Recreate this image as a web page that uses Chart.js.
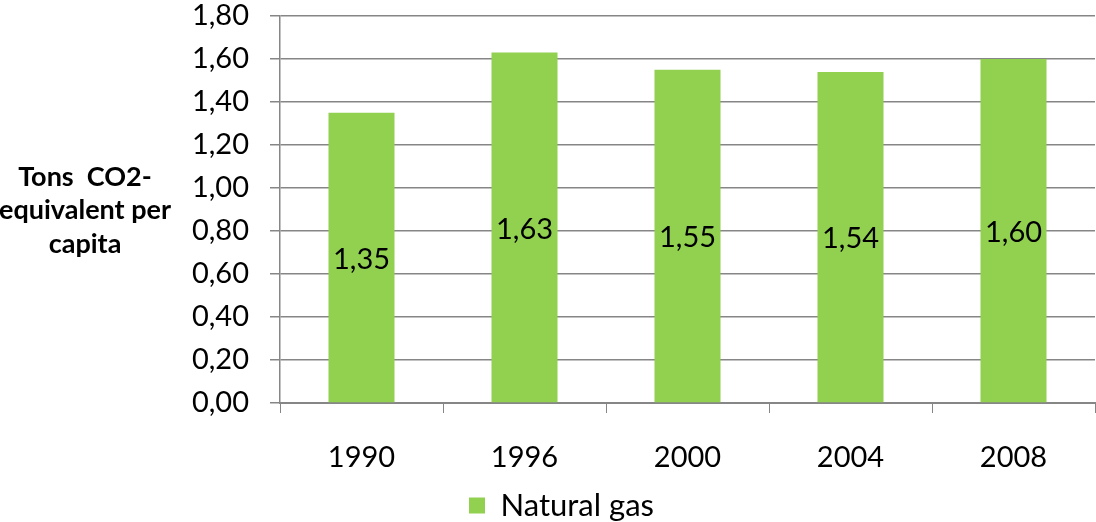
<!DOCTYPE html>
<html>
<head>
<meta charset="utf-8">
<script src="https://cdn.jsdelivr.net/npm/chart.js@4"></script>
<style>
  html, body { margin: 0; padding: 0; background: #fff; }
  #wrap { width: 1096px; height: 522px; }
</style>
</head>
<body>
<div id="wrap"><canvas id="gasChart" width="1096" height="522"></canvas></div>
<script>
var years = ["1990", "1996", "2000", "2004", "2008"];
var gasValues = [1.35, 1.63, 1.55, 1.54, 1.60];
var seriesName = "Natural gas";
var yTitle = ["Tons  CO2-", "equivalent per", "capita"];

var FONT = "Lato, Calibri, 'Open Sans', sans-serif";

function komma(v) {
  return Number(v).toFixed(2).replace(".", ",");
}

// value labels in the middle of each bar
var barLabels = {
  id: "barLabels",
  afterDatasetsDraw: function(chart) {
    var ctx = chart.ctx;
    var meta = chart.getDatasetMeta(0);
    ctx.save();
    ctx.font = "29px " + FONT;
    ctx.fillStyle = "#000";
    ctx.textAlign = "center";
    ctx.textBaseline = "middle";
    meta.data.forEach(function(bar, i) {
      var mid = (bar.y + bar.base) / 2;
      ctx.fillText(komma(chart.data.datasets[0].data[i]), bar.x, mid + 2);
    });
    ctx.restore();
  }
};

// horizontal axis title on the left, nudge legend a bit right
var sideTitle = {
  id: "sideTitle",
  afterLayout: function(chart) {
    if (chart.legend) {
      chart.legend.left += 14;
      chart.legend.right += 14;
    }
  },
  afterDraw: function(chart) {
    var ctx = chart.ctx;
    ctx.save();
    ctx.font = "bold 27px " + FONT;
    ctx.fillStyle = "#000";
    ctx.textAlign = "center";
    ctx.textBaseline = "middle";
    var lineY = [177, 210, 244];
    yTitle.forEach(function(t, i) {
      ctx.fillText(t, 85, lineY[i]);
    });
    ctx.restore();
  }
};

var chart = new Chart(document.getElementById("gasChart"), {
  type: "bar",
  data: {
    labels: years,
    datasets: [{
      label: seriesName,
      data: gasValues,
      backgroundColor: "#92D050",
      borderWidth: 0,
      barPercentage: 0.405,
      categoryPercentage: 1.0
    }]
  },
  plugins: [barLabels, sideTitle],
  options: {
    responsive: false,
    animation: false,
    layout: { padding: { left: 0, right: 1, top: 0, bottom: -9 } },
    plugins: {
      tooltip: { enabled: false },
      legend: {
        display: true,
        position: "bottom",
        labels: {
          usePointStyle: true,
          pointStyle: "rect",
          boxWidth: 16,
          boxHeight: 16,
          padding: 0,
          color: "#000",
          font: { family: FONT, size: 31 }
        }
      }
    },
    scales: {
      x: {
        afterFit: function(scale) { scale.height = 87; },
        grid: {
          offset: true,
          drawOnChartArea: false,
          drawTicks: true,
          tickLength: 10,
          color: "#868686",
          lineWidth: 1
        },
        border: { color: "#868686", width: 2 },
        ticks: {
          autoSkip: false,
          maxRotation: 0,
          color: "#000",
          padding: 27,
          font: { family: FONT, size: 29 }
        }
      },
      y: {
        min: 0,
        max: 1.8,
        afterFit: function(scale) {
          scale.width = 280;
          scale.paddingTop = 16;
        },
        grid: {
          color: "#868686",
          lineWidth: 1.5,
          tickLength: 10
        },
        border: { color: "#868686", width: 1.5 },
        ticks: {
          autoSkip: false,
          stepSize: 0.2,
          padding: 21,
          color: "#000",
          font: { family: FONT, size: 29 },
          callback: function(v) { return komma(v); }
        }
      }
    }
  }
});
</script>
</body>
</html>
